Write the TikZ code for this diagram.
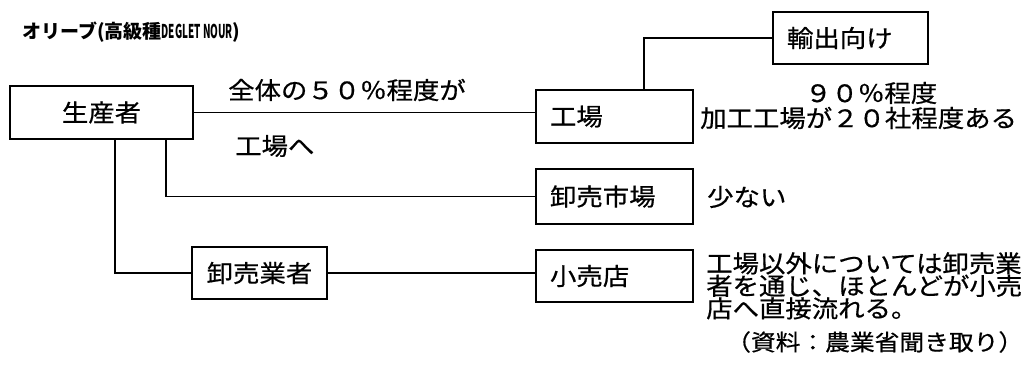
\documentclass[tikz,border=0pt]{standalone}
\usepackage{fontspec}
\setmainfont[FakeStretch=1.1,FakeBold=0.6]{Noto Sans CJK JP}
\newfontfamily\titlefont{Noto Sans CJK JP}
\usepackage{graphicx}
\newcommand{\fs}[1]{\fontsize{#1}{#1}\selectfont}
\begin{document}
\begin{tikzpicture}[x=1pt,y=-1pt,
  box/.style={draw, line width=1.6pt, inner ysep=0pt, minimum height=53pt, font=\fs{24}},
  lbox/.style={box, inner xsep=14pt, text width=#1, align=left},
  txt/.style={anchor=west, inner sep=0pt, font=\fs{24}},
  line/.style={line width=1.5pt}]
\useasboundingbox (0,0) rectangle (1027,382);
% title
\node[anchor=west, inner sep=0pt, font=\titlefont\fs{19}\bfseries] (title) at (22,32) {オリーブ(高級種\scalebox{0.52}[1]{DEGLET NOUR})};
% boxes
\node[box, minimum width=183pt] (sei) at (101.5,112.5) {生産者};
\node[lbox=129pt] (kojo) at (614.5,116.5) {工場};
\node[lbox=127pt, minimum height=52pt] (yushutsu) at (850.5,38) {輸出向け};
\node[lbox=129pt, minimum height=55pt] (ichiba) at (614.5,196.5) {卸売市場};
\node[box, minimum width=135pt, minimum height=52pt] (oroshi) at (259.5,273) {卸売業者};
\node[lbox=129pt, minimum height=52pt] (kouri) at (614.5,276) {小売店};
% connectors
\draw[line] (sei.east) -- (sei.east -| kojo.west);
\draw[line] ([xshift=29.5pt]kojo.north) |- (yushutsu.west);
\draw[line] ([xshift=64.5pt]sei.south) |- (ichiba.west);
\draw[line] ([xshift=13.5pt]sei.south) |- (oroshi.west);
\draw[line] (oroshi.east) -- (oroshi.east -| kouri.west);
% labels
\node[txt] (l50) at (228,90) {全体の５０％程度が};
\node[txt] (lkojo) at (235,146) {工場へ};
\node[txt] (l90) at (805,93) {９０％程度};
\node[txt] (l20) at (700,118) {加工工場が２０社程度ある};
\node[txt] (lsukunai) at (707,197) {少ない};
\node[anchor=north west, inner sep=0pt, align=left, font=\fontsize{24}{22.5}\selectfont] (lnote) at (706,252) {工場以外については卸売業\\者を通じ、ほとんどが小売\\店へ直接流れる。};
\node[txt, font=\fs{22.5}] (lsrc) at (726,342) {（資料：農業省聞き取り）};
\end{tikzpicture}
\end{document}
